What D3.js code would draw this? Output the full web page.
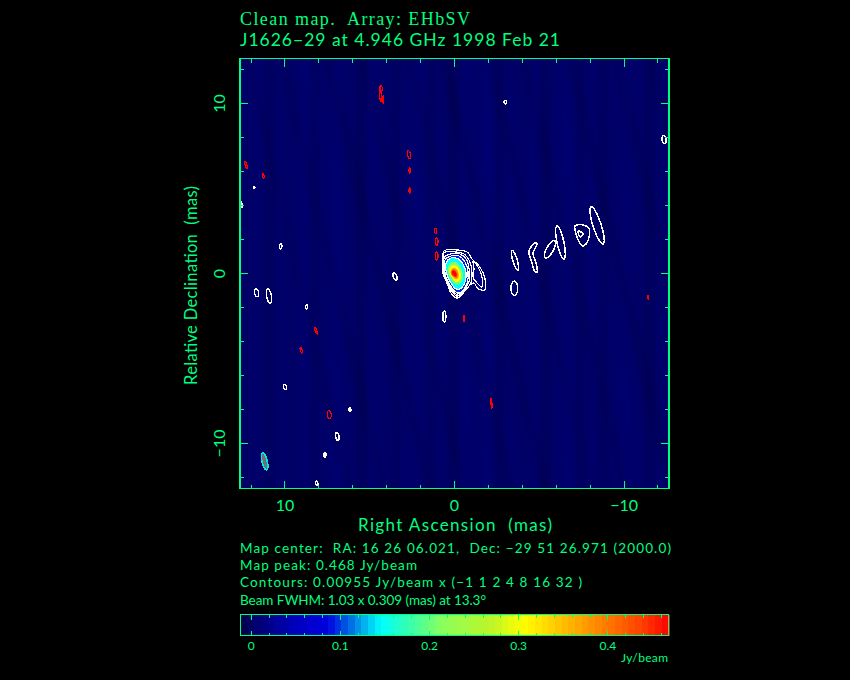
<!DOCTYPE html>
<html><head><meta charset="utf-8">
<script src="https://cdn.jsdelivr.net/npm/d3@7"></script>
<style>html,body{margin:0;background:#000}svg{display:block}text{white-space:pre}</style>
</head><body><svg id="c" width="850" height="680"></svg>
<script>
// ---- text ----
const titleLine1 = "Clean map.  Array: EHbSV";
const titleLine2 = "J1626\u221229 at 4.946 GHz 1998 Feb 21";
const xTitle = "Right Ascension  (mas)";
const yTitle = "Relative Declination  (mas)";
const infoLines = [
  "Map center:  RA: 16 26 06.021,  Dec: \u221229 51 26.971 (2000.0)",
  "Map peak: 0.468 Jy/beam",
  "Contours: 0.00955 Jy/beam x (\u22121 1 2 4 8 16 32 )",
  "Beam FWHM: 1.03 x 0.309 (mas) at 13.3\u00b0"
];
const barUnit = "Jy/beam";
// ---- axes (mas, Jy/beam) ----
const raRange = [12.65, -12.65];
const decRange = [-12.65, 12.65];
const majorTicks = [10, 0, -10];
const minorTicks = [12, 8, 6, 4, 2, -2, -4, -6, -8, -12];
const barRange = [-0.0115, 0.468];
const barTicks = [0, 0.1, 0.2, 0.3, 0.4];
const barMinor = [0.02, 0.04, 0.06, 0.08, 0.12, 0.14, 0.16, 0.18, 0.22, 0.24, 0.26, 0.28, 0.32, 0.34, 0.36, 0.38, 0.42, 0.44, 0.46];
const barSteps = 64;
const colorStops = [-0.0115, 0, 0.05, 0.085, 0.1, 0.125, 0.145, 0.175, 0.215, 0.27, 0.305, 0.35, 0.4, 0.44, 0.468];
const colorValues = ["#000046","#000066","#0000be","#0000e0","#003ce0","#00aaeb","#00ffff","#32ffb4","#8cff5a","#bef528","#ffff00","#ffbe00","#ff7800","#ff3c00","#ff0000"];
// ---- residual sky brightness bands read across the map (Jy/beam) ----
const slantBands = [0.002,-0.003,0.003,0.001,-0.004,0.002,0.004,0.000,-0.005,0.001,0.003,-0.003,0.002,0.005,0.001,-0.004,0.002,0.000,-0.005,0.001,0.004,0.002,-0.003,0.003,0.000,-0.004,0.002,0.005,0.001,-0.005,0.000,0.003,0.001,-0.004,0.002,0.004,-0.003,0.001,-0.005,0.002,0.003,-0.003,0.001,-0.004,0.002,0.000];
const verticalBands = [0.001,0.004,-0.004,0.003,0.000,0.005,-0.003,0.002,0.006,0.000,-0.005,0.004,0.001,-0.004,0.003,0.005,-0.003,0.002,-0.005,0.004,0.001,0.006,-0.004,0.002,0.000,0.004,-0.005,0.002,0.005,-0.003,0.003,-0.004,0.001,0.004,0.000,-0.005,0.002];
const slantMas = 6;
const bandWidthMas = 0.68;
// ---- core: nested levels [ra,dec]... ----
const coreLevel1 = [[.62,1.33],[-.03,1.39],[-.74,1.27],[-1.03,.86],[-1.5,.38],[-1.8,-.32],[-1.8,-.95],[-1.39,-.91],[-1.15,-.56],[-.91,-.68],[-.62,-1.03],[-.15,-1.45],[.21,-1.15],[.44,-.56],[.68,.03],[.68,.74]];
const coreLevel2 = [[.62,1.21],[-.03,1.27],[-.56,1.15],[-.91,.68],[-1.03,.03],[-.97,-.56],[-.62,-.97],[-.15,-1.33],[.27,-.91],[.56,-.27],[.62,.44]];
const coreLobe = [[-1.09,.74],[-1.39,.38],[-1.62,-.21],[-1.62,-.8],[-1.33,-.56],[-1.09,-.21],[-1.15,.27]];
const coreLevel4 = [[.59,.97],[.21,1.15],[-.32,1.15],[-.68,.86],[-.86,.27],[-.86,-.44],[-.5,-1.03],[-.09,-1.21],[.27,-.8],[.56,-.21]];
const coreLevel8 = [[.56,.8],[.21,1.03],[-.27,1.03],[-.62,.68],[-.8,.09],[-.74,-.56],[-.38,-1.09],[-.09,-1.09],[.27,-.68],[.5,-.21]];
const coreLevel16 = [[.5,.62],[.21,.91],[-.21,.86],[-.5,.56],[-.68,.03],[-.62,-.5],[-.32,-.91],[-.09,-.91],[.21,-.56],[.44,-.09]];
const coreGreen = [[.38,.38],[.15,.68],[-.15,.62],[-.38,.32],[-.5,-.09],[-.44,-.44],[-.21,-.68],[-.03,-.62],[.21,-.32],[.38,.03]];
const coreYellow = [[.3,.27],[.09,.5],[-.15,.44],[-.32,.15],[-.38,-.15],[-.27,-.44],[-.09,-.5],[.09,-.32],[.27,-.03]];
const coreOrange = [[.21,.18],[.03,.32],[-.15,.21],[-.24,-.03],[-.21,-.27],[-.09,-.32],[.09,-.21],[.21,-.03]];
const coreRed = [[.15,.15],[.03,.21],[-.09,.09],[-.15,-.09],[-.09,-.21],[.03,-.15],[.15,-.03]];
const coreFillValues = [0.012, 0.028, 0.055, 0.095, 0.145, 0.21, 0.3, 0.39, 0.465];
// ---- islands as [ra, dec, semi-major, semi-minor, tilt deg] ----
const whiteIslands = [[-3.57,.77,.6,.13,16],[-3.53,-.87,.42,.2,0],[-5.63,1.42,.58,.2,-29],[-6.25,1.83,1.0,.2,12],[-8.41,2.83,1.15,.24,18],[3.51,-.17,.22,.11,20],[.6,-2.53,.33,.09,0],[-3.0,10.08,.1,.08,0],[-12.36,7.88,.24,.12,10],[11.81,5.06,.06,.04,0],[12.6,4.07,.2,.07,10],[10.25,1.6,.15,.07,0],[11.67,-1.13,.24,.12,10],[10.94,-1.33,.42,.14,10],[8.72,-1.96,.12,.06,0],[10.0,-6.68,.15,.09,15],[6.17,-8.01,.12,.06,0],[6.91,-9.59,.24,.1,10],[7.64,-10.67,.15,.06,0],[8.13,-12.34,.12,.07,15]];
const redIslands = [[1.11,2.51,.15,.07,0],[1.05,1.88,.22,.08,0],[1.05,1.03,.24,.08,0],[4.34,10.86,.2,.08,0],[4.37,10.56,.45,.05,3],[4.2,10.24,.24,.02,0],[2.68,6.99,.25,.08,10],[2.65,6.05,.18,.03,0],[2.65,4.87,.18,.03,0],[12.3,6.4,.22,.05,15],[11.28,5.75,.15,.05,15],[8.17,-3.36,.22,.05,20],[9.04,-4.51,.18,.05,15],[7.39,-8.31,.24,.12,5],[-.56,-2.63,.18,.04,0],[-2.18,-7.64,.3,.03,5],[-11.42,-1.39,.12,.03,0]];
const hookIsland = [[-4.72,1.8],[-4.87,1.74],[-4.63,1.21],[-4.81,.62],[-4.87,.09],[-4.75,.09],[-4.57,.62],[-4.4,1.15],[-4.4,1.33]];
const loopIsland = [[-7.11,2.8],[-7.58,2.86],[-7.94,2.63],[-7.94,2.15],[-7.76,1.74],[-7.58,1.62],[-7.35,1.86],[-7.17,2.33]];
const loopInner = [[-7.29,2.51],[-7.58,2.33],[-7.4,2.15]];
const beamMarker = [11.2, -11.05, 0.515, 0.155, 13.3];

// ---- drawing ----
const GREEN = "#00ff7f";
const svg = d3.select("#c");
const L = 240, R = 669, T = 58.5, B = 488.5;
const x = d3.scaleLinear().domain(raRange).range([L, R]);
const y = d3.scaleLinear().domain(decRange).range([B, T]);
const color = d3.scaleLinear().domain(colorStops).range(colorValues).clamp(true);
const pxPerMas = Math.abs(x(1) - x(0));

svg.append("defs").append("clipPath").attr("id","map").append("rect").attr("x",L).attr("y",T).attr("width",R-L).attr("height",B-T);
svg.select("defs").append("filter").attr("id","soft").append("feGaussianBlur").attr("stdDeviation",0.7);
svg.select("defs").append("filter").attr("id","bandSoft").append("feGaussianBlur").attr("stdDeviation",1.6);

const map = svg.append("g").attr("clip-path","url(#map)");
map.append("rect").attr("x",L).attr("y",T).attr("width",R-L).attr("height",B-T).attr("fill",color(0));
const bands = map.append("g").attr("filter","url(#bandSoft)");
const top0 = raRange[0] + slantMas * 0.1;
bands.selectAll(".s").data(slantBands).join("path")
  .attr("fill",d=>color(d))
  .attr("d",(d,i)=>{
    const a = top0 - i*bandWidthMas, b = a - bandWidthMas - 0.05;
    return `M${x(a)},${y(decRange[1])}L${x(b)},${y(decRange[1])}L${x(b-slantMas)},${y(decRange[0])}L${x(a-slantMas)},${y(decRange[0])}Z`;
  });
bands.selectAll(".v").data(verticalBands).join("rect")
  .attr("x",(d,i)=>x(raRange[0]-i*bandWidthMas))
  .attr("y",T).attr("height",B-T).attr("width",bandWidthMas*pxPerMas+0.5)
  .attr("fill",d=>color(d)).attr("opacity",0.55);

const closed = d3.line().x(d=>x(d[0])).y(d=>y(d[1])).curve(d3.curveCatmullRomClosed.alpha(0.5));
function ellipsePts(e){
  const [ra,dec,a,b,t] = e, r = t*Math.PI/180;
  return d3.range(0,16).map(k=>{
    const th = k/16*2*Math.PI, u = b*Math.cos(th), v = a*Math.sin(th);
    return [ra + u*Math.cos(r) + v*Math.sin(r), dec - u*Math.sin(r) + v*Math.cos(r)];
  });
}
// core fills
const coreFills = [coreLevel1, coreLevel2, coreLevel4, coreLevel8, coreLevel16, coreGreen, coreYellow, coreOrange, coreRed];
map.append("g").attr("filter","url(#soft)").selectAll("path").data(coreFills).join("path")
  .attr("d",closed).attr("fill",(d,i)=>color(coreFillValues[i]));
// white contours
const corePolys = [coreLevel1, coreLevel2, coreLobe, coreLevel4, coreLevel8, coreLevel16];
map.append("g").selectAll("path").data(corePolys).join("path")
  .attr("d",closed).attr("fill","none").attr("stroke","#fff").attr("stroke-width",1.2).attr("shape-rendering","crispEdges");
const islandPolys = [hookIsland, loopIsland, loopInner].concat(whiteIslands.map(ellipsePts));
map.append("g").selectAll("path").data(islandPolys).join("path")
  .attr("d",closed).attr("fill","none").attr("stroke","#fff").attr("stroke-width",1.5).attr("shape-rendering","crispEdges");
map.append("g").selectAll("path").data(redIslands.map(ellipsePts)).join("path")
  .attr("d",closed).attr("fill","none").attr("stroke","#ff0000").attr("stroke-width",1.2).attr("shape-rendering","crispEdges");
// beam
map.append("path").datum(ellipsePts(beamMarker)).attr("d",closed).attr("fill","#707070").attr("stroke","#00e6e6").attr("stroke-width",1.6).attr("shape-rendering","crispEdges");

// frame and ticks
const axisG = svg.append("g").attr("stroke",GREEN).attr("stroke-width",1).attr("shape-rendering","crispEdges");
axisG.append("rect").attr("x",L).attr("y",T).attr("width",R-L).attr("height",B-T).attr("fill","none").attr("stroke-width",1.5);
function ticks(vals,len){
  vals.forEach(v=>{
    axisG.append("line").attr("x1",x(v)).attr("x2",x(v)).attr("y1",T).attr("y2",T+len);
    axisG.append("line").attr("x1",x(v)).attr("x2",x(v)).attr("y1",B).attr("y2",B-len);
    axisG.append("line").attr("y1",y(v)).attr("y2",y(v)).attr("x1",L).attr("x2",L+len);
    axisG.append("line").attr("y1",y(v)).attr("y2",y(v)).attr("x1",R).attr("x2",R-len);
  });
}
ticks(majorTicks,8); ticks(minorTicks,4);

function txt(s,px,py,size,width,opts={}){
  const t = svg.append("text").attr("x",px).attr("y",py).text(s)
    .attr("fill",GREEN).attr("font-size",size)
    .attr("font-weight",opts.weight||400)
    .attr("font-family",opts.family||"Lato,'Liberation Sans',sans-serif")
    .attr("text-anchor",opts.anchor||"start");
  if(width) t.attr("textLength",width).attr("lengthAdjust","spacing");
  if(opts.rotate) t.attr("transform",`rotate(${opts.rotate} ${px} ${py})`);
  return t;
}
const tickFmt = v => v < 0 ? "\u2212"+Math.abs(v) : String(v);
txt(titleLine1,240,25,18,230,{family:"'Liberation Serif',serif",weight:400});
txt(titleLine2,240,46,17.5,320);
majorTicks.forEach(v=>{
  txt(tickFmt(v),x(v),511,16,null,{anchor:"middle"});
  txt(tickFmt(v),225,y(v),16,null,{anchor:"middle",rotate:-90});
});
txt(xTitle,358,531,17,194);
txt(yTitle,197,385,16.5,199,{rotate:-90});
const infoY = [553,570,587,605], infoW = [431,177,342,246];
infoLines.forEach((s,i)=>txt(s,240,infoY[i],13.5,infoW[i]));

// colour bar
const bx = d3.scaleLinear().domain(barRange).range([241,668.5]);
const bT = 614.5, bB = 635.5;
const stepW = (barRange[1]-barRange[0])/barSteps;
svg.append("g").attr("shape-rendering","crispEdges").selectAll("rect").data(d3.range(barSteps)).join("rect")
  .attr("x",i=>bx(barRange[0]+i*stepW)).attr("width",stepW*(bx(1)-bx(0))+1)
  .attr("y",bT).attr("height",bB-bT).attr("fill",i=>color(barRange[0]+(i+0.5)*stepW));
const barG = svg.append("g").attr("stroke",GREEN).attr("shape-rendering","crispEdges");
barG.append("rect").attr("x",240.5).attr("y",bT).attr("width",428).attr("height",bB-bT).attr("fill","none").attr("stroke-width",1.3);
[[barTicks,5],[barMinor,3]].forEach(([vals,len])=>vals.forEach(v=>{
  barG.append("line").attr("x1",bx(v)).attr("x2",bx(v)).attr("y1",bT).attr("y2",bT+len);
  barG.append("line").attr("x1",bx(v)).attr("x2",bx(v)).attr("y1",bB).attr("y2",bB-len);
}));
barTicks.forEach(v=>txt(String(v),bx(v),650,12,null,{anchor:"middle"}));
txt(barUnit,668,662,12,47,{anchor:"end"});
</script></body></html>
